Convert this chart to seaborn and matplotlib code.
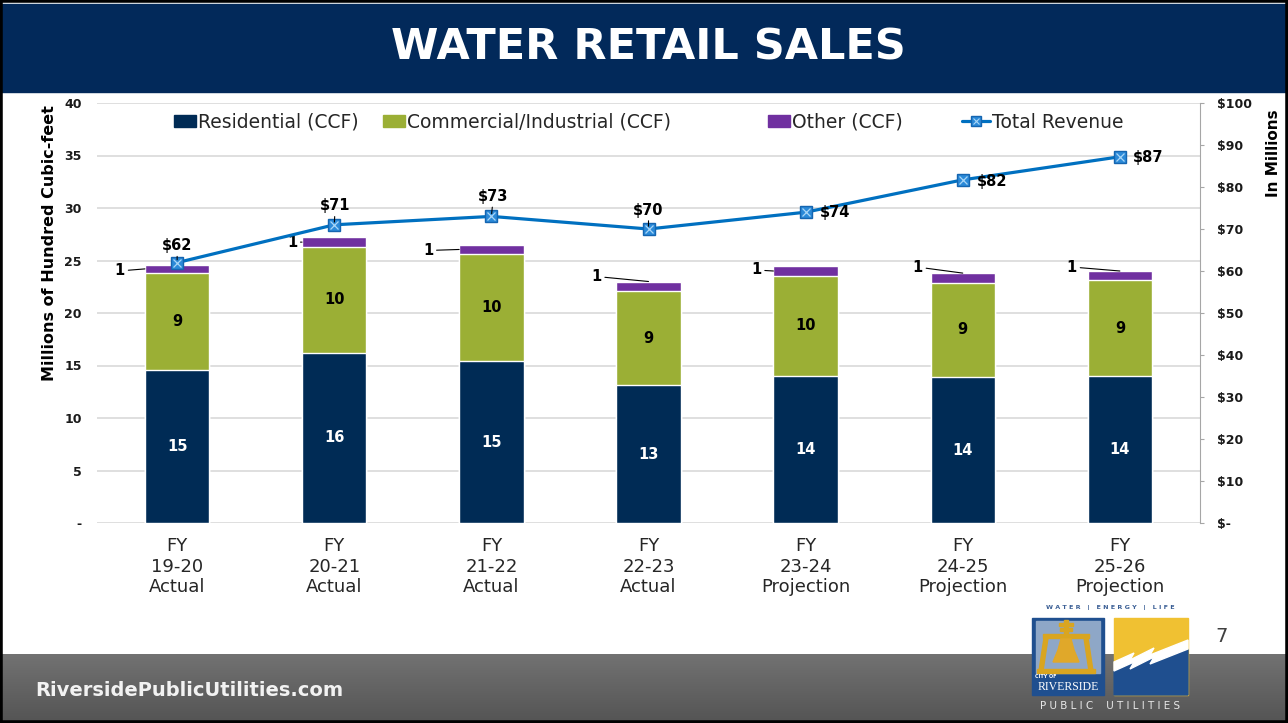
import numpy as np
import pandas as pd
import seaborn as sns
import matplotlib.pyplot as plt
from matplotlib.patches import Rectangle, Polygon, Patch
from matplotlib.lines import Line2D
from matplotlib.colors import LinearSegmentedColormap

sns.set_style('white')
plt.rcParams['font.family'] = ['DejaVu Sans']
plt.rcParams['text.color'] = 'black'

# data (millions of CCF, revenue in $M)
years = ['FY\n19-20\nActual', 'FY\n20-21\nActual', 'FY\n21-22\nActual',
         'FY\n22-23\nActual', 'FY\n23-24\nProjection', 'FY\n24-25\nProjection',
         'FY\n25-26\nProjection']
residential = [14.6, 16.2, 15.4, 13.1, 14.0, 13.9, 14.0]
commercial = [9.2, 10.1, 10.2, 9.0, 9.55, 9.0, 9.1]
other = [0.8, 0.9, 0.9, 0.9, 0.9, 0.9, 0.9]
revenue = [62, 71, 73, 70, 74, 81.7, 87.2]

NAVY = '#002b55'
GREEN = '#9baf35'
PURPLE = '#7030a0'
BLUE = '#0070c0'
W, H = 1288, 723

df = pd.DataFrame({'year': years, 'residential': residential,
                   'commercial': commercial, 'other': other})
df['res_comm'] = df['residential'] + df['commercial']
df['total'] = df['res_comm'] + df['other']


def fx(x):
    return x / W


def fy(y):
    return 1 - y / H


fig = plt.figure(figsize=(W / 100, H / 100), dpi=100)

# title banner + footer
fig.patches.append(Rectangle((0, fy(92)), 1, (92 - 4) / H, transform=fig.transFigure,
                             color='#02295a', zorder=1))
fig.text(fx(648), fy(48), 'WATER RETAIL SALES', color='white', fontsize=31,
         fontweight='bold', ha='center', va='center', zorder=2)

fax = fig.add_axes([0, 0, 1, (H - 654) / H], zorder=-1)
grad = LinearSegmentedColormap.from_list('foot', ['#545454', '#727272'])
fax.imshow(np.linspace(0, 1, 60).reshape(-1, 1), cmap=grad, aspect='auto',
           extent=[0, 1, 0, 1], origin='lower')
fax.axis('off')
fig.text(fx(35), fy(690), 'RiversidePublicUtilities.com', color='#f2f2f2',
         fontsize=14, fontweight='bold', ha='left', va='center')
fig.text(fx(1222), fy(636), '7', color='#404040', fontsize=14, ha='center', va='center')

# main chart
ax = fig.add_axes([fx(97), fy(523), fx(1200 - 97), (523 - 103) / H])
kw = dict(x='year', width=0.41, saturation=1, errorbar=None, ax=ax)
sns.barplot(data=df, y='total', color=PURPLE, **kw)
sns.barplot(data=df, y='res_comm', color=GREEN, **kw)
sns.barplot(data=df, y='residential', color=NAVY, **kw)

ax.set_ylim(0, 40)
ax.set_yticks(range(0, 41, 5), ['-'] + [str(v) for v in range(5, 41, 5)],
              fontsize=9, fontweight='bold')
ax.tick_params(axis='y', length=0, pad=11, colors='#1a1a1a')
ax.tick_params(axis='x', length=0, pad=10, labelsize=13, colors='#262626')
ax.yaxis.grid(True, color='#d9d9d9', lw=1.2)
ax.set_axisbelow(True)
for s in ax.spines.values():
    s.set_visible(False)
ax.set_xlabel('')
ax.set_ylabel('')

pt = 0.72  # px -> pt
for i, row in df.iterrows():
    ax.text(i, row['residential'] / 2, f"{row['residential']:.0f}", color='white',
            fontsize=10.5, fontweight='bold', ha='center', va='center')
    ax.text(i, row['residential'] + row['commercial'] / 2, f"{row['commercial']:.0f}",
            color='black', fontsize=10.5, fontweight='bold', ha='center', va='center')

# "other" labels with leader lines
anchor = ['left', 'left', 'left', 'center', 'left', 'center', 'center']
offs = [(-25, -2), (-10, 0), (-31, -1), (-52, 5), (-17, 1), (-45, 6), (-48, 4)]
for i, row in df.iterrows():
    if anchor[i] == 'left':
        xy = (i - 0.205, row['total'] - row['other'] / 2)
    else:
        xy = (i, row['total'])
    dx, dy = offs[i]
    ax.annotate(f"{row['other']:.0f}", xy=xy, xytext=(dx * pt, dy * pt),
                textcoords='offset points', ha='center', va='center',
                fontsize=10.5, fontweight='bold', color='black',
                arrowprops=dict(arrowstyle='-', color='black', lw=0.8,
                                shrinkA=0, shrinkB=0))

# revenue on secondary axis
ax2 = ax.twinx()
xs = np.arange(len(revenue))
sns.lineplot(x=xs, y=revenue, ax=ax2, color=BLUE, lw=2.3, marker='s', markersize=8.5,
             markerfacecolor='#2b8ad8', markeredgecolor='#1565b0', markeredgewidth=1)
ax2.plot(xs, revenue, ls='none', marker='x', ms=6, mew=0.9, color='#a9d6f7')
ax2.set_ylim(0, 100)
ax2.set_yticks(range(0, 101, 10), ['$-'] + [f'${v}' for v in range(10, 101, 10)],
               fontsize=9, fontweight='bold')
ax2.tick_params(axis='y', length=3, color='#a6a6a6', pad=9, labelcolor='#1a1a1a')
for k in ['top', 'left', 'bottom']:
    ax2.spines[k].set_visible(False)
ax2.spines['right'].set_color('#a6a6a6')
ax2.set_ylabel('')
ax.set_xlim(-0.51, 6.51)

rev_offs = [(0, 17), (1, 19), (2, 20), (0, 19), (14, 0), (14, -2), (13, -1)]
for i, v in enumerate(revenue):
    dx, dy = rev_offs[i]
    if dx > 10:
        ax2.annotate(f'${v:.0f}', xy=(i, v), xytext=(dx * pt, dy * pt),
                     textcoords='offset points', ha='left', va='center',
                     fontsize=10.5, fontweight='bold', color='black')
    else:
        ax2.annotate(f'${v:.0f}', xy=(i, v), xytext=(dx * pt, dy * pt),
                     textcoords='offset points', ha='center', va='center',
                     fontsize=10.5, fontweight='bold', color='black',
                     arrowprops=dict(arrowstyle='-', color='black', lw=0.8,
                                     shrinkA=0, shrinkB=2))

fig.text(fx(50), fy(243), 'Millions of Hundred Cubic-feet', rotation=90,
         fontsize=11.5, fontweight='bold', ha='center', va='center')
fig.text(fx(1273), fy(153), 'In Millions', rotation=90, fontsize=11,
         fontweight='bold', ha='center', va='center')

# legend, one entry at a time to match the slide spacing
rev_handle = (Line2D([], [], color=BLUE, lw=2.3, marker='s', ms=7,
                     markerfacecolor='#2b8ad8', markeredgecolor='#1565b0'),
              Line2D([], [], ls='none', marker='x', ms=5, mew=0.8, color='#a9d6f7'))
entries = [(Patch(color=NAVY), 'Residential (CCF)', 174, 1.17),
           (Patch(color=GREEN), 'Commercial/Industrial (CCF)', 383, 1.17),
           (Patch(color=PURPLE), 'Other (CCF)', 768, 1.17),
           (rev_handle, 'Total Revenue', 962, 1.5)]
for handle, label, x0, hl in entries:
    fig.legend([handle], [label], loc='center left', bbox_to_anchor=(fx(x0), fy(122)),
               frameon=False, fontsize=13.5, handlelength=hl, handleheight=0.55,
               handletextpad=0.12, borderpad=0, borderaxespad=0, labelcolor='#262626')

# logo
lg = fig.add_axes([fx(1025), fy(716), fx(170), (716 - 598) / H], zorder=3)
lg.set_xlim(1025, 1195)
lg.set_ylim(716, 598)
lg.axis('off')
lg.add_patch(Rectangle((1032, 618), 72, 77, color='#1f4f8f'))
lg.add_patch(Rectangle((1036, 621), 64, 52, color='#8ea7c7'))
gold = '#d9a520'
lg.add_patch(Rectangle((1043, 634), 46, 4, color=gold))
lg.add_patch(Polygon([(1044, 638), (1048, 638), (1043, 671), (1039, 671)], color=gold))
lg.add_patch(Polygon([(1084, 638), (1088, 638), (1093, 671), (1089, 671)], color=gold))
lg.add_patch(Rectangle((1037, 669), 58, 4, color=gold))
lg.add_patch(Rectangle((1064, 620), 4, 15, color=gold))
lg.add_patch(Rectangle((1059, 623), 14, 2.5, color=gold))
lg.add_patch(Rectangle((1060, 628), 12, 2.5, color=gold))
lg.add_patch(Polygon([(1061, 639), (1071, 639), (1074, 650), (1079, 662),
                      (1053, 662), (1058, 650)], color='#e0a82a'))
lg.text(1035, 677, 'CITY OF', color='white', fontsize=3.5, fontweight='bold', va='center')
lg.text(1068, 687, 'RIVERSIDE', color='white', fontsize=8.5, family='Liberation Serif',
        ha='center', va='center')
lg.add_patch(Rectangle((1114, 618), 74, 77, color='#f0c132'))
upper = [(1114, 662), (1134, 653), (1130, 660), (1154, 648), (1150, 655), (1188, 640)]
lower = [(x, y + 9) for x, y in upper]
lg.add_patch(Polygon(lower + [(1188, 695), (1114, 695)], color='#1f4f8f'))
lg.add_patch(Polygon(upper + lower[::-1], color='white'))
lg.text(1110, 607, 'W A T E R   |   E N E R G Y   |   L I F E', color='#3b5f95',
        fontsize=4.6, fontweight='bold', ha='center', va='center')
lg.text(1110, 706, 'P U B L I C    U T I L I T I E S', color='#e8e8e8',
        fontsize=7.5, ha='center', va='center')

fig.patches.append(Rectangle((0, 0), 1, 1, transform=fig.transFigure, fill=False,
                             edgecolor='black', lw=4, zorder=10))

fig.savefig('out.png', dpi=100)
